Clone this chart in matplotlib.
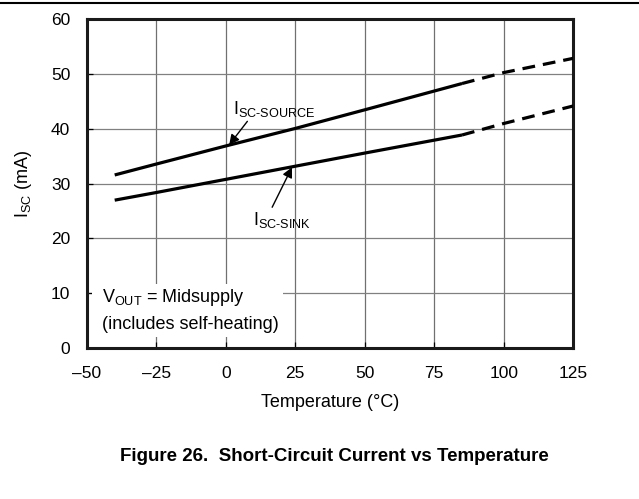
import numpy as np
import matplotlib
matplotlib.use("Agg")
import matplotlib.pyplot as plt
from matplotlib.patches import Rectangle

plt.rcParams['font.family'] = ['Liberation Sans', 'DejaVu Sans']

# temperature points (deg C), solid part up to 85, dashed beyond
temp_solid = [-40, -25, 0, 25, 50, 85]
temp_dash = [85, 100, 125]
source_solid = [31.6, 33.6, 36.9, 40.1, 43.5, 48.3]
source_dash = [48.3, 50.3, 52.9]
sink_solid = [27.0, 28.4, 30.8, 33.2, 35.6, 38.9]
sink_dash = [38.9, 41.0, 44.2]

xticks = [-50, -25, 0, 25, 50, 75, 100, 125]
xlabels = ["\u201350", "\u201325", "0", "25", "50", "75", "100", "125"]
yticks = [0, 10, 20, 30, 40, 50, 60]

fig = plt.figure(figsize=(6.39, 4.99), dpi=100)
ax = fig.add_axes([0.136, 0.3026, 0.761, 0.6584])

# grid drawn by hand so the note box can hide it but not the ticks
for x in xticks[1:-1]:
    ax.axvline(x, color="#707070", lw=0.9, zorder=1)
for y in yticks[1:-1]:
    ax.axhline(y, color="#808080", lw=0.9, zorder=1)

ax.plot(temp_solid, source_solid, color="black", lw=2.3, zorder=3,
        solid_capstyle="butt")
ax.plot(temp_dash, source_dash, color="black", lw=2.3, ls=(0, (4, 2.5)), zorder=3)
ax.plot(temp_solid, sink_solid, color="black", lw=2.3, zorder=3,
        solid_capstyle="butt")
ax.plot(temp_dash, sink_dash, color="black", lw=2.3, ls=(0, (4, 2.5)), zorder=3)

ax.set_xlim(-50, 125)
ax.set_ylim(0, 60)
ax.set_xticks(xticks)
ax.set_xticklabels(xlabels)
ax.set_yticks(yticks)
ax.tick_params(direction="in", length=4, width=0.9, labelsize=12.5)
ax.tick_params(axis="x", pad=13)
ax.tick_params(axis="y", pad=12)
for s in ax.spines.values():
    s.set_linewidth(2.2)
    s.set_color("#1a1a1a")

ax.set_xlabel("Temperature (\u00b0C)", fontsize=13, labelpad=9)
ax.set_ylabel("I$_{\\mathregular{SC}}$ (mA)", fontsize=13, labelpad=12)

arrow = dict(arrowstyle="-|>", color="black", lw=1.0, mutation_scale=15,
             shrinkA=0, shrinkB=0)
ax.annotate("I$_{\\mathregular{SC\u2010SOURCE}}$", xy=(1.2, 37.1), xytext=(2.6, 41.9),
            fontsize=13, ha="left", va="bottom",
            arrowprops=dict(arrow, relpos=(0.2, 0.0)), zorder=4)
ax.annotate("I$_{\\mathregular{SC\u2010SINK}}$", xy=(23.8, 33.0), xytext=(9.9, 25.2),
            fontsize=13, ha="left", va="top",
            arrowprops=dict(arrow, relpos=(0.3, 1.0)), zorder=4)

# note box that hides the grid
ax.add_patch(Rectangle((-48.2, 2.0), 68.8, 9.6, facecolor="white",
                       edgecolor="none", zorder=2))
ax.text(-44.6, 9.3, "V$_{\\mathregular{OUT}}$ = Midsupply", fontsize=13,
        ha="left", va="center", zorder=4)
ax.text(-44.6, 4.3, "(includes self-heating)", fontsize=13,
        ha="left", va="center", zorder=4)

fig.text(0.524, 0.086, "Figure 26.  Short-Circuit Current vs Temperature",
         ha="center", va="center", fontsize=13.5, fontweight="bold")
fig.add_artist(plt.Line2D([0, 1], [0.994, 0.994], color="black", lw=1.5,
                          transform=fig.transFigure))

fig.savefig("out.png", dpi=100)
